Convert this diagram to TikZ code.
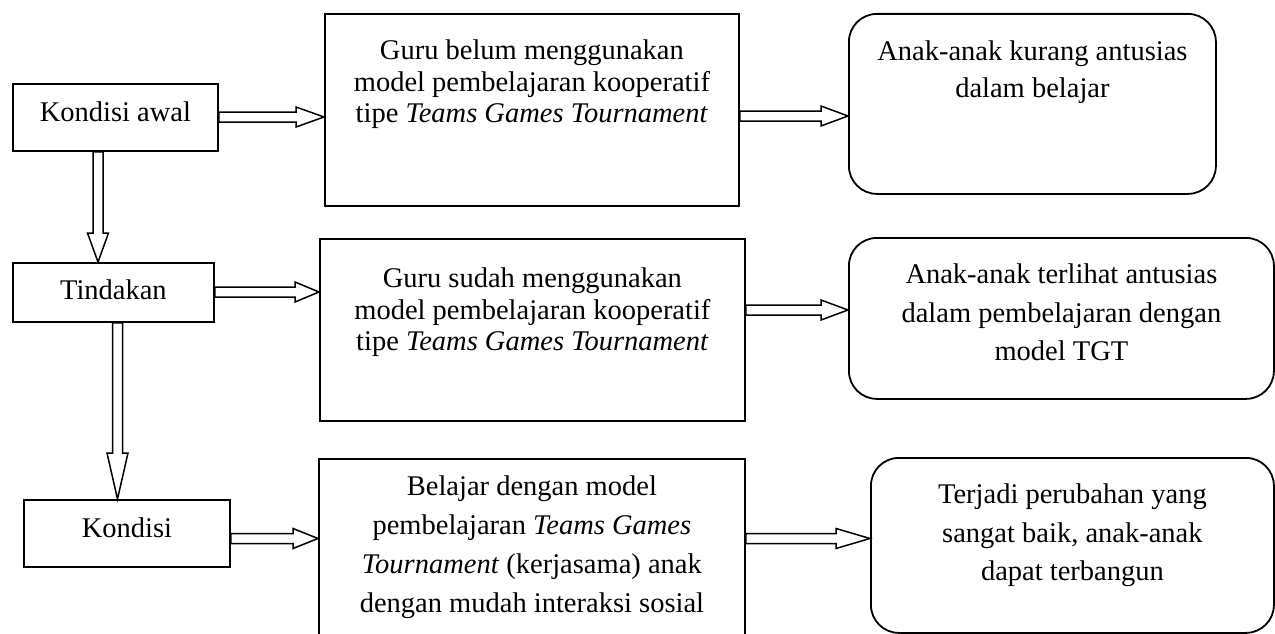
\documentclass[tikz,border=0pt]{standalone}
\usepackage{fontspec}
\setmainfont{Liberation Serif}
\usetikzlibrary{calc}
% text block: #1 width, #2 height, #3 baselineskip, #4 first baseline from top, #5 text
\newcommand\tbox[5]{\vbox to #2{\hsize=#1\relax\parindent=0pt\parskip=0pt
  \fontsize{28.5pt}{#3}\selectfont\baselineskip=#3\relax\lineskiplimit=-100pt
  \vskip\dimexpr#4-#3\relax\null\centering #5\par\vfill}}
% horizontal hollow arrow: from, to, y, head length
\newcommand\harrow[4]{\draw[fat] let \p1=(#1.east), \p2=(#2.west), \p3=(0,#3) in
  (\x1,\y3+5pt) -- (\x2-#4,\y3+5pt) -- (\x2-#4,\y3+10pt) -- (\x2,\y3) --
  (\x2-#4,\y3-10pt) -- (\x2-#4,\y3-5pt) -- (\x1,\y3-5pt) -- cycle;}
% vertical hollow arrow: from, to, x, head length
\newcommand\varrow[4]{\draw[fat] let \p1=(#1.south), \p2=(#2.north), \p3=(#3,0) in
  (\x3-5pt,\y1) -- (\x3-5pt,\y2+#4) -- (\x3-10.5pt,\y2+#4) -- (\x3,\y2) --
  (\x3+10.5pt,\y2+#4) -- (\x3+5pt,\y2+#4) -- (\x3+5pt,\y1) -- cycle;}
\tikzset{
  box/.style={draw, line width=1.8pt, inner sep=0pt, anchor=north west},
  rbox/.style={box, rounded corners=28pt},
  fat/.style={draw, line width=1.5pt, line join=miter, fill=white}
}
\begin{document}
\begin{tikzpicture}[x=1pt,y=-1pt]
\useasboundingbox (0,0) rectangle (1275,634);
\clip (0,0) rectangle (1275,634);
% left column
\node[box] (l1) at (12,83) {\tbox{205pt}{67pt}{30pt}{38pt}{Kondisi awal}};
\node[box] (l2) at (12,262) {\tbox{201pt}{59pt}{30pt}{37pt}{Tindakan}};
\node[box] (l3) at (23,499) {\tbox{206pt}{67pt}{30pt}{38pt}{Kondisi}};
% middle column
\node[box] (m1) at (324,13) {\tbox{414pt}{192pt}{31.5pt}{46pt}{Guru belum menggunakan\\model pembelajaran kooperatif\\tipe \textit{Teams Games Tournament}}};
\node[box] (m2) at (319,238) {\tbox{425pt}{182pt}{31.5pt}{49pt}{Guru sudah menggunakan\\model pembelajaran kooperatif\\tipe \textit{Teams Games Tournament}}};
\node[box] (m3) at (318,458) {\tbox{426pt}{200pt}{39pt}{37pt}{Belajar dengan model\\pembelajaran \textit{Teams Games}\\\textit{Tournament} (kerjasama) anak\\dengan mudah interaksi sosial}};
% right column
\node[rbox] (r1) at (848,13) {\tbox{367pt}{180pt}{37pt}{47pt}{Anak-anak kurang antusias\\dalam belajar}};
\node[rbox] (r2) at (848,237) {\tbox{425pt}{161pt}{38.5pt}{46pt}{Anak-anak terlihat antusias\\dalam pembelajaran dengan\\model TGT}};
\node[rbox] (r3) at (870,457) {\tbox{403pt}{175pt}{38.5pt}{46pt}{Terjadi perubahan yang\\sangat baik, anak-anak\\dapat terbangun}};
% arrows
\varrow{l1}{l2}{98}{29pt}
\varrow{l2}{l3}{117.5}{46pt}
\harrow{l1}{m1}{117}{28pt}
\harrow{l2}{m2}{292}{24pt}
\harrow{l3}{m3}{538.5}{25pt}
\harrow{m1}{r1}{116}{27pt}
\harrow{m2}{r2}{310}{27pt}
\harrow{m3}{r3}{538.5}{34pt}
\end{tikzpicture}
\end{document}
